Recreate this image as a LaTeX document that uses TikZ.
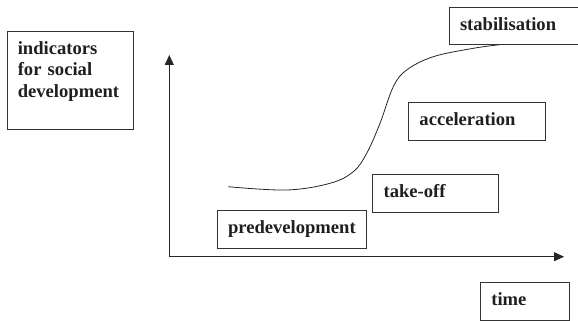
\documentclass[tikz,border=0pt]{standalone}
\usepackage{fontspec}
\setmainfont{Liberation Serif}
\usetikzlibrary{positioning, arrows.meta}

\tikzset{
    stagebox/.style={draw=black!80, line width=0.8pt, text=black!88,
        font=\fontsize{18.6}{21.4}\selectfont\bfseries, align=left,
        inner xsep=11pt, inner ysep=0pt, text height=13pt, text depth=4.5pt,
        minimum height=37.5pt},
    axis/.style={draw=black!85, line width=0.9pt, -{Triangle[length=10pt, width=9pt]}}
}

\begin{document}
\begin{tikzpicture}[x=1pt, y=-1pt]
                    \useasboundingbox (0, 0) rectangle (578, 321);

                    \node [stagebox, anchor=north west, inner xsep=10pt, text width=106pt,
                           text height=23pt, text depth=74.7pt] (indicators) at (7.4, 31) {indicators\\for social\\development};

                    \coordinate (origin) at (169.3, 256.7);
                    \coordinate (ytop) at (169.3, 55);
                    \coordinate (xend) at (564, 256.7);

                    \node [stagebox, text width=114pt] (stab) at (517, 26) {stabilisation};
                    \node [stagebox, text width=115.1pt] (accel) at (477, 121.5) {acceleration};
                    \node [stagebox, text width=103.4pt] (takeoff) at (435.3, 193.3) {take-off};
                    \node [stagebox, text width=127.4pt] (predev) at (291.7, 229.3) {predevelopment};
                    \node [stagebox, text width=67.2pt] (time) at (524.9, 301.2) {time};

                    \draw [axis] (origin) -- (ytop);
                    \draw [axis] (origin) -- (xend);

                    % s-curve of the transition
                    \draw [black!85, line width=0.8pt] plot [smooth, tension=0.6] coordinates {
                        (228.3, 186.7) (286.7, 190) (330, 183.3) (353.3, 171.7) (366.7, 153.3)
                        (380, 123.3) (393.3, 86.7) (406.7, 70) (433.3, 56.7) (473.3, 48.3) (500, 44.7)};
                \end{tikzpicture}
\end{document}
